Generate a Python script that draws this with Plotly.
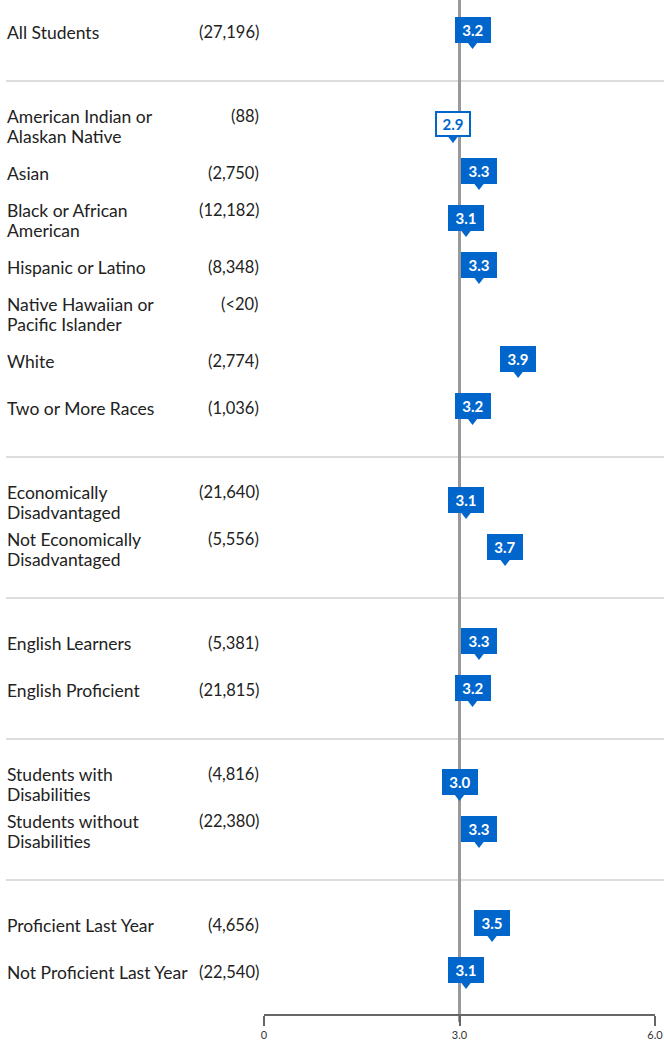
import plotly.graph_objects as go

# ---- data ----
labels = [
    "All Students",
    "American Indian or<br>Alaskan Native",
    "Asian",
    "Black or African<br>American",
    "Hispanic or Latino",
    "Native Hawaiian or<br>Pacific Islander",
    "White",
    "Two or More Races",
    "Economically<br>Disadvantaged",
    "Not Economically<br>Disadvantaged",
    "English Learners",
    "English Proficient",
    "Students with<br>Disabilities",
    "Students without<br>Disabilities",
    "Proficient Last Year",
    "Not Proficient Last Year",
]
counts = ["(27,196)", "(88)", "(2,750)", "(12,182)", "(8,348)", "(<20)", "(2,774)", "(1,036)",
          "(21,640)", "(5,556)", "(5,381)", "(21,815)", "(4,816)", "(22,380)", "(4,656)", "(22,540)"]
values = [3.2, 2.9, 3.3, 3.1, 3.3, None, 3.9, 3.2, 3.1, 3.7, 3.3, 3.2, 3.0, 3.3, 3.5, 3.1]
hollow = [False, True, False, False, False, False, False, False,
          False, False, False, False, False, False, False, False]
# row index of each label (gaps mark group separators)
rows = [0, 2, 3, 4, 5, 6, 7, 8, 10, 11, 13, 14, 16, 17, 19, 20]
separator_rows = [1, 9, 12, 15, 18]
reference_value = 3.0
tick_vals = [0, 3, 6]
tick_text = ["0", "3.0", "6.0"]

BLUE = "#0066cc"
FONT = "Lato"
TEXT = "#222222"

W, H = 664, 1042
ML, MR, MT, MB = 264, 9, 0, 28
plot_h = H - MT - MB
PX_ROW = 47.0
TOP_PX = 32.0
LINE_PX = 20
y_top = -TOP_PX / PX_ROW
y_bot = (plot_h - TOP_PX) / PX_ROW

fig = go.Figure()

# pointer triangles
tri_off = 13.0 / PX_ROW
tx = [v for v in values if v is not None]
ty = [r + tri_off for v, r in zip(values, rows) if v is not None]
fig.add_trace(go.Scatter(
    x=tx, y=ty, mode="markers",
    marker=dict(symbol="triangle-down", size=8, color=BLUE, line=dict(width=0)),
    hoverinfo="skip", showlegend=False,
))

annotations = []
for lab, cnt, v, hl, r in zip(labels, counts, values, hollow, rows):
    parts = lab.split("<br>")
    n = len(parts)
    for i, part in enumerate(parts):
        annotations.append(dict(
            xref="paper", yref="y", x=0, y=r, xanchor="left", yanchor="middle",
            xshift=-(ML - 5), yshift=LINE_PX * ((n - 1) / 2 - i),
            text=part, showarrow=False, align="left",
            font=dict(family=FONT, size=17.5, color=TEXT),
        ))
    annotations.append(dict(
        xref="paper", yref="y", x=0, y=r, xanchor="right", yanchor="middle",
        xshift=-3, yshift=LINE_PX * (n - 1) / 2, text=cnt, showarrow=False,
        font=dict(family=FONT, size=16.5, color=TEXT),
    ))
    if v is not None:
        annotations.append(dict(
            xref="x", yref="y", x=v, y=r, xanchor="center", yanchor="middle",
            yshift=2.5, text="<b>%.1f</b>" % v, showarrow=False,
            width=30, height=20, borderpad=1, borderwidth=2,
            bgcolor="white" if hl else BLUE, bordercolor=BLUE,
            font=dict(family=FONT, size=15, color=BLUE if hl else "white"),
        ))

shapes = []
for sr in separator_rows:
    shapes.append(dict(
        type="line", xref="paper", yref="y",
        x0=(6 - ML) / (W - ML - MR), x1=(W - ML) / (W - ML - MR),
        y0=sr + 2 / PX_ROW, y1=sr + 2 / PX_ROW,
        line=dict(color="#dddddd", width=2), layer="below",
    ))
shapes.append(dict(
    type="line", xref="x", yref="paper", x0=reference_value, x1=reference_value,
    y0=-8 / plot_h, y1=1, line=dict(color="#999999", width=3), layer="below",
))

fig.update_layout(
    width=W, height=H,
    margin=dict(l=ML, r=MR, t=MT, b=MB),
    paper_bgcolor="white", plot_bgcolor="white",
    showlegend=False,
    annotations=annotations, shapes=shapes,
    xaxis=dict(
        range=[0, 6], tickvals=tick_vals, ticktext=tick_text,
        showgrid=False, zeroline=False, showline=True,
        linecolor="#666666", linewidth=2,
        ticks="outside", ticklen=10, tickwidth=2, tickcolor="#666666",
        tickfont=dict(family=FONT, size=11, color="#333"),
        fixedrange=True,
    ),
    yaxis=dict(
        range=[y_bot, y_top], showgrid=False, zeroline=False,
        showticklabels=False, showline=False, fixedrange=True,
    ),
)

fig.write_html("out.html", config={"displayModeBar": False},
               post_script="document.body.style.margin='0';document.body.style.overflow='hidden';")
